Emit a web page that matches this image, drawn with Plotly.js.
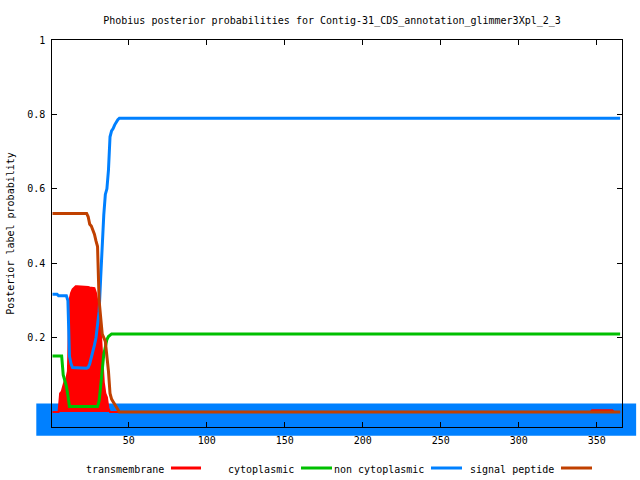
<!DOCTYPE html>
<html>
<head>
<meta charset="utf-8">
<script src="https://cdn.plot.ly/plotly-3.0.1.min.js"></script>
<style>html,body{margin:0;padding:0;background:#fff;}#chart{width:640px;height:480px;}</style>
</head>
<body>
<div id="chart"></div>
<script>
// ---- data ----
const seqLength = 366;
const predStart = [1];
const predEnd = [365];
const predLabel = ['non cytoplasmic'];

const tmPos = [1,5,6,7,8,9,10,11,12,13,14,15,16,17,18,19,20,21,22,23,24,25,26,27,28,29,30,31,32,33,34,35,36,37,38,346,347,360,361,365];
const tmVal = [0,0,0.05,0.055,0.07,0.085,0.09,0.11,0.30,0.32,0.33,0.335,0.338,0.338,0.338,0.338,0.338,0.338,0.338,0.338,0.336,0.335,0.335,0.335,0.333,0.32,0.29,0.27,0.22,0.15,0.08,0.05,0.04,0.01,0,0,0.005,0.005,0,0];

const cytPos = [1,7,8,9,10,11,12,30,31,32,33,34,35,36,37,38,39,365];
const cytVal = [0.151,0.151,0.10,0.088,0.07,0.045,0.015,0.015,0.03,0.07,0.12,0.155,0.175,0.195,0.203,0.208,0.21,0.21];

const noncytPos = [1,4,5,10,11,12,13,14,23,24,25,26,27,28,29,30,31,32,33,34,35,36,37,38,39,40,41,42,43,44,365];
const noncytVal = [0.317,0.317,0.313,0.313,0.3,0.15,0.13,0.12,0.118,0.12,0.13,0.145,0.16,0.18,0.2,0.235,0.27,0.36,0.46,0.53,0.585,0.6,0.65,0.74,0.756,0.762,0.772,0.78,0.786,0.79,0.79];

const spPos = [1,23,24,25,26,27,28,29,30,31,32,33,34,35,36,37,38,39,40,41,42,43,44,365];
const spVal = [0.534,0.534,0.525,0.505,0.5,0.49,0.478,0.46,0.445,0.3,0.25,0.21,0.2,0.19,0.15,0.11,0.05,0.035,0.028,0.02,0.012,0.004,0,0];

const seriesNames = ['transmembrane','cytoplasmic','non cytoplasmic','signal peptide'];
const xTickVals = [50,100,150,200,250,300,350];
const yTickVals = [0.2,0.4,0.6,0.8,1];
const yTickText = ['0.2','0.4','0.6','0.8','1'];
const titleText = 'Phobius posterior probabilities for Contig-31_CDS_annotation_glimmer3Xpl_2_3';
const yTitleText = 'Posterior label probability';

// ---- styles / geometry ----
const colors = ['#ff0000','#00c000','#0080ff','#c04000'];
const FONT = 'DejaVu Sans Mono, Liberation Mono, monospace';
const bandLevel = -0.02;
const W = 640, H = 480;
// frame of the main plot, in pixels
const plotL = 52.3, plotR = 621.7, plotT = 40, plotB = 427;
// paper margins (paper is larger than the frame so the thick band can overflow it)
const pad = {l: 20, r: 0, t: 40, b: 40};
const paperW = W - pad.l - pad.r, paperH = H - pad.t - pad.b;
const xRange = [1, seqLength];
const yRange = [-0.04, 1];
const sx = (plotR - plotL) / (xRange[1] - xRange[0]);
const sy = (plotB - plotT) / (yRange[1] - yRange[0]);
const mainXDomain = [(plotL - pad.l) / paperW, (plotR - pad.l) / paperW];
const mainYDomain = [(H - pad.b - plotB) / paperH, (H - pad.b - plotT) / paperH];
const bandXRange = [xRange[0] - (plotL - pad.l) / sx, xRange[1] + (W - pad.r - plotR) / sx];
const bandYRange = [yRange[0] - (H - pad.b - plotB) / sy, yRange[1] + (plotT - pad.t) / sy];
const px2paperX = p => (p - pad.l) / paperW;
const py2paperY = p => (H - pad.b - p) / paperH;

const traces = [];
// predicted topology: thick band under everything (own, larger subplot)
traces.push({
  type: 'bar', orientation: 'h', xaxis: 'x', yaxis: 'y',
  y: predStart.map(() => bandLevel),
  base: predStart,
  x: predStart.map((s, i) => predEnd[i] - s),
  width: 0.0005,
  marker: {color: colors[2], line: {color: colors[2], width: 32}},
  cliponaxis: false, showlegend: false, hoverinfo: 'skip', name: predLabel[0]
});
traces.push({type: 'scatter', mode: 'lines', x: tmPos, y: tmVal, name: seriesNames[0], xaxis: 'x2', yaxis: 'y2',
  fill: 'tozeroy', fillcolor: colors[0], line: {color: colors[0], width: 2}, showlegend: false});
traces.push({type: 'scatter', mode: 'lines', x: cytPos, y: cytVal, name: seriesNames[1], xaxis: 'x2', yaxis: 'y2',
  line: {color: colors[1], width: 3}, showlegend: false});
traces.push({type: 'scatter', mode: 'lines', x: noncytPos, y: noncytVal, name: seriesNames[2], xaxis: 'x2', yaxis: 'y2',
  line: {color: colors[2], width: 3}, showlegend: false});
traces.push({type: 'scatter', mode: 'lines', x: spPos, y: spVal, name: seriesNames[3], xaxis: 'x2', yaxis: 'y2',
  line: {color: colors[3], width: 3}, showlegend: false});

// legend drawn gnuplot-style: text then line sample
const legTextRight = [165, 295, 425, 555];
const legLine = [[171, 201], [301, 332], [431, 462], [561, 592]];
const legY = 469;
const annotations = seriesNames.map((n, i) => ({
  text: n, xref: 'paper', yref: 'paper', x: px2paperX(legTextRight[i] + 1), y: py2paperY(legY),
  xanchor: 'right', yanchor: 'middle', showarrow: false, font: {family: FONT, size: 10, color: '#000'}
}));
const shapes = legLine.map((l, i) => ({
  type: 'line', xref: 'paper', yref: 'paper', x0: px2paperX(l[0]), x1: px2paperX(l[1]),
  y0: py2paperY(legY - 1), y1: py2paperY(legY - 1), line: {color: colors[i], width: 3}
}));

const tickFont = {family: FONT, size: 10, color: '#000'};
const layout = {
  width: W, height: H, margin: {l: pad.l, r: pad.r, t: pad.t, b: pad.b, autoexpand: false},
  paper_bgcolor: '#fff', plot_bgcolor: 'rgba(0,0,0,0)',
  showlegend: false, barmode: 'overlay',
  font: {family: FONT, size: 10, color: '#000'},
  title: {text: titleText, xref: 'container', yref: 'container', x: 332 / W, y: 1 - 20 / H,
    xanchor: 'center', yanchor: 'middle', font: {family: FONT, size: 10, color: '#000'}},
  xaxis: {domain: [0, 1], range: bandXRange, visible: false, fixedrange: true},
  yaxis: {domain: [0, 1], range: bandYRange, visible: false, fixedrange: true},
  xaxis2: {anchor: 'y2', domain: mainXDomain, range: xRange, tickvals: xTickVals, ticktext: xTickVals.map(String),
    ticks: 'inside', ticklen: 5, tickcolor: '#000', tickwidth: 1, ticklabelstandoff: 4,
    showline: true, linecolor: '#000', linewidth: 1, mirror: 'ticks',
    showgrid: false, zeroline: false, tickfont: tickFont},
  yaxis2: {anchor: 'x2', domain: mainYDomain, range: yRange, tickvals: yTickVals, ticktext: yTickText,
    ticks: 'inside', ticklen: 5, tickcolor: '#000', tickwidth: 1, ticklabelstandoff: 4,
    showline: true, linecolor: '#000', linewidth: 1, mirror: 'ticks',
    showgrid: false, zeroline: false, tickfont: tickFont,
    title: {text: yTitleText, font: {family: FONT, size: 10, color: '#000'}, standoff: 10}},
  annotations: annotations, shapes: shapes
};

Plotly.newPlot('chart', traces, layout, {staticPlot: true, displayModeBar: false});
</script>
</body>
</html>
